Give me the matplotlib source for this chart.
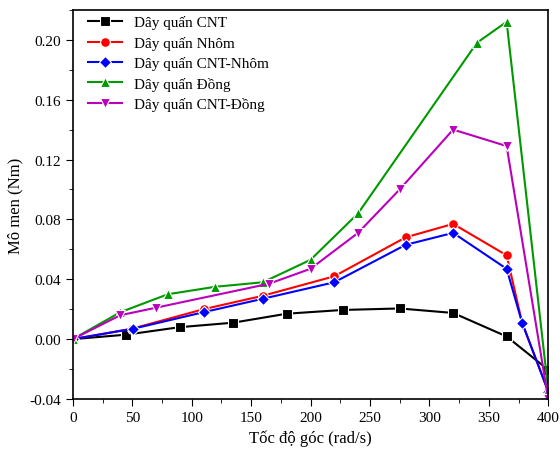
import matplotlib
matplotlib.use("Agg")
import matplotlib.pyplot as plt
from matplotlib.ticker import MultipleLocator

plt.rcParams['font.family'] = ['Liberation Serif', 'DejaVu Serif']

# data
x_cnt = [0, 45, 90, 135, 180, 227, 275, 320, 365, 400]
y_cnt = [0, 0.003, 0.008, 0.011, 0.017, 0.0195, 0.0205, 0.0175, 0.0018, -0.0205]

x_nhom = [0, 50, 110, 160, 220, 280, 320, 365, 378, 400]
y_nhom = [0, 0.007, 0.020, 0.029, 0.042, 0.068, 0.077, 0.056, 0.011, -0.035]

x_cnt_nhom = [0, 51, 110, 160, 220, 280, 320, 365, 378, 400]
y_cnt_nhom = [0, 0.007, 0.018, 0.027, 0.038, 0.063, 0.071, 0.047, 0.011, -0.035]

x_dong = [0, 40, 80, 120, 160, 200, 240, 340, 365, 400]
y_dong = [0, 0.018, 0.030, 0.035, 0.038, 0.053, 0.084, 0.198, 0.212, -0.034]

x_cnt_dong = [0, 40, 70, 165, 200, 240, 275, 320, 365, 400]
y_cnt_dong = [0, 0.016, 0.021, 0.037, 0.047, 0.071, 0.100, 0.140, 0.129, -0.040]

series = [
    (x_cnt, y_cnt, 'black', 's', 'Dây quấn CNT'),
    (x_nhom, y_nhom, 'red', 'o', 'Dây quấn Nhôm'),
    (x_cnt_nhom, y_cnt_nhom, 'blue', 'D', 'Dây quấn CNT-Nhôm'),
    (x_dong, y_dong, '#009900', '^', 'Dây quấn Đồng'),
    (x_cnt_dong, y_cnt_dong, '#bb00bb', 'v', 'Dây quấn CNT-Đồng'),
]

fig = plt.figure(figsize=(5.6, 4.52), dpi=100)
ax = fig.add_axes([0.130, 0.115, 0.849, 0.861])

for xs, ys, col, mk, lab in series:
    ms = 6.3 if mk == 'D' else 7
    ax.plot(xs, ys, color=col, marker=mk, markersize=ms, linewidth=1.5,
            markeredgecolor='white', markeredgewidth=0.8, label=lab)

ax.set_xlim(0, 400)
ax.set_ylim(-0.04, 0.22)
ax.xaxis.set_major_locator(MultipleLocator(50))
ax.xaxis.set_minor_locator(MultipleLocator(25))
ax.yaxis.set_major_locator(MultipleLocator(0.04))
ax.yaxis.set_minor_locator(MultipleLocator(0.02))
ax.yaxis.set_major_formatter(plt.FuncFormatter(lambda v, p: f"{v:.2f}"))
ax.tick_params(which='major', direction='out', length=5, labelsize=11)
ax.tick_params(which='minor', direction='out', length=3)
for s in ax.spines.values():
    s.set_linewidth(1.2)

ax.set_xlabel('Tốc độ góc (rad/s)', fontsize=12)
ax.set_ylabel('Mô men (Nm)', fontsize=12)

ax.legend(loc='upper left', frameon=False, fontsize=11, handlelength=2.2,
          labelspacing=0.42, borderaxespad=0.3, bbox_to_anchor=(0.01, 1.013))

fig.savefig('out.png', dpi=100)
